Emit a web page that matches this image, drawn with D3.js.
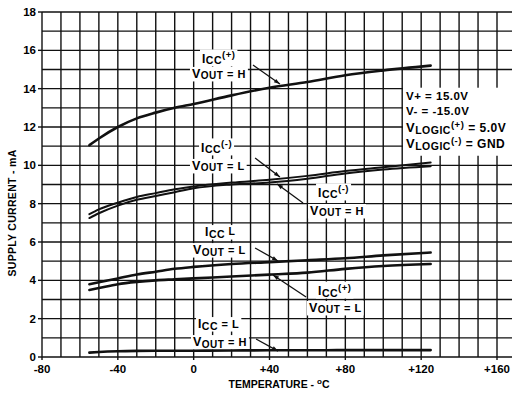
<!DOCTYPE html>
<html><head><meta charset="utf-8">
<script src="https://cdn.jsdelivr.net/npm/d3@7"></script>
<style>
html,body{margin:0;padding:0;background:#fff;}
svg{display:block;font-family:"Liberation Sans",Arial,sans-serif;font-weight:bold;}
</style></head>
<body><svg id="chart" width="512" height="393"></svg>
<script>
// ---- data ----
const temps     = [-55, -50, -40, -30, -20, -10, 0, 20, 40, 60, 80, 100, 125];
const iccPlusH  = [11.05, 11.4, 12.0, 12.45, 12.75, 13.0, 13.2, 13.65, 14.05, 14.35, 14.7, 14.95, 15.2];
const iccMinusL = [7.45, 7.7, 8.05, 8.35, 8.55, 8.75, 8.9, 9.1, 9.25, 9.45, 9.7, 9.9, 10.15];
const iccMinusH = [7.25, 7.5, 7.9, 8.2, 8.4, 8.6, 8.8, 9.0, 9.1, 9.3, 9.58, 9.78, 9.95];
const iccLL     = [3.8, 3.9, 4.1, 4.3, 4.45, 4.6, 4.7, 4.85, 4.95, 5.05, 5.15, 5.3, 5.45];
const iccPlusL  = [3.5, 3.6, 3.8, 3.92, 4.0, 4.05, 4.1, 4.2, 4.3, 4.4, 4.6, 4.75, 4.85];
const iccLH     = [0.23, 0.26, 0.3, 0.32, 0.33, 0.33, 0.33, 0.34, 0.35, 0.35, 0.36, 0.36, 0.36];
const xTickValues = [-80, -40, 0, 40, 80, 120, 160];
const xTickLabels = ["-80", "-40", "0", "+40", "+80", "+120", "+160"];
const yTickValues = [0, 2, 4, 6, 8, 10, 12, 14, 16, 18];
const yTickLabels = ["0", "2", "4", "6", "8", "10", "12", "14", "16", "18"];
const conditions = [
  [["V+ = 15.0V", 11.5, 0]],
  [["V- = -15.0V", 11.5, 0]],
  [["V", 13, 0], ["LOGIC", 10.5, 1.5], ["(+)", 9.5, -4.5], [" = 5.0V", 12, 0]],
  [["V", 13, 0], ["LOGIC", 10.5, 1.5], ["(-)", 9.5, -4.5], [" = GND", 12, 0]]
];

// ---- layout ----
const svg = d3.select("#chart");
const x = d3.scaleLinear().domain([-80, 160]).range([42, 497]);
const y = d3.scaleLinear().domain([0, 18]).range([357, 12]);
const rightEdge = 512;

// grid
const g = svg.append("g").attr("stroke", "#111").attr("stroke-width", 1.4);
g.selectAll("line.v").data(d3.range(-80, 161, 10)).join("line")
  .attr("x1", d => x(d)).attr("x2", d => x(d)).attr("y1", y(18)).attr("y2", y(0));
g.selectAll("line.h").data(d3.range(0, 19, 1)).join("line")
  .attr("x1", x(-80)).attr("x2", rightEdge).attr("y1", d => y(d)).attr("y2", d => y(d));

// ticks
svg.append("g").selectAll("line").data(yTickValues).join("line")
  .attr("x1", x(-80) - 4).attr("x2", x(-80)).attr("y1", d => y(d)).attr("y2", d => y(d))
  .attr("stroke", "#111").attr("stroke-width", 1.4);
svg.append("g").selectAll("line").data(xTickValues).join("line")
  .attr("x1", d => x(d)).attr("x2", d => x(d)).attr("y1", y(0)).attr("y2", y(0) + 3)
  .attr("stroke", "#111").attr("stroke-width", 1.4);

// tick labels
svg.append("g").selectAll("text").data(yTickValues).join("text")
  .attr("x", x(-80) - 6).attr("y", d => y(d) + 4).attr("text-anchor", "end")
  .attr("font-size", 11.5).text((d, i) => yTickLabels[i]);
svg.append("g").selectAll("text").data(xTickValues).join("text")
  .attr("x", d => x(d)).attr("y", y(0) + 16).attr("text-anchor", "middle")
  .attr("font-size", 11.5).text((d, i) => xTickLabels[i]);

// axis titles
const xt = svg.append("text").attr("x", 279).attr("y", 388).attr("text-anchor", "middle").attr("font-size", 10.5);
xt.append("tspan").text("TEMPERATURE - ");
xt.append("tspan").attr("font-size", 8).attr("dy", -4).text("o");
xt.append("tspan").attr("dy", 4).text("C");
svg.append("text").attr("transform", "translate(16,213) rotate(-90)").attr("text-anchor", "middle")
  .attr("font-size", 10.5).attr("letter-spacing", 0.3).text("SUPPLY CURRENT - mA");

// rich text helper: parts = [text, size, shift]
function rich(sel, px, py, parts) {
  const t = sel.append("text").attr("x", px).attr("y", py).attr("letter-spacing", 0.5);
  let prev = 0;
  parts.forEach(([s, size, shift]) => {
    t.append("tspan").attr("font-size", size).attr("dy", shift - prev).text(s);
    prev = shift;
  });
  return t;
}

// annotations in data coords
const icc = (sup) => [["I", 12, 0], ["CC", 10.5, 1.5], [sup, 9.5, -4.5]];
const vout = (v) => [["V", 12.5, 0], ["OUT", 10, 1.5], [" = " + v, 11, 0]];
const annotations = [
  { l1: icc("(+)"), l2: vout("H"), a: [4.4, 15.34], b: [-0.9, 14.56], from: [31.3, 15.23], to: [45.5, 14.24] },
  { l1: icc("(-)"), l2: vout("L"), a: [3.9, 10.7], b: [-0.9, 9.76], from: [32.4, 10.38], to: [45.5, 9.39] },
  { l1: icc("(-)"), l2: vout("H"), a: [65.6, 8.35], b: [61.4, 7.41], from: [57.7, 8.03], to: [44.0, 9.03] },
  { l1: [["I", 12, 0], ["CC", 10.5, 1.5], [" L", 10.5, -1]], l2: vout("L"), a: [6.0, 6.31], b: [-0.35, 5.37], from: [32.4, 5.69], to: [44.5, 5.01] },
  { l1: icc("(+)"), l2: vout("L"), a: [65.6, 3.23], b: [60.8, 2.35], from: [59.3, 3.13], to: [41.8, 4.28] },
  { l1: [["I", 12, 0], ["CC", 10.5, 1.5], [" = L", 11, 0]], l2: vout("H"), a: [2.3, 1.51], b: [-0.35, 0.57], from: [32.9, 0.94], to: [44.5, 0.31] }
];

const bgLayer = svg.append("g");
const curveLayer = svg.append("g");
const textLayer = svg.append("g");

// curves
const series = [iccPlusH, iccMinusL, iccMinusH, iccLL, iccPlusL, iccLH];
const line = d3.line().x((d, i) => x(temps[i])).y(d => y(d)).curve(d3.curveMonotoneX);
curveLayer.selectAll("path").data(series).join("path")
  .attr("d", line).attr("fill", "none").attr("stroke", "#111")
  .attr("stroke-width", (d, i) => (i === 1 || i === 2) ? 2 : 2.6).attr("stroke-linecap", "round");

// arrow marker
svg.append("defs").append("marker").attr("id", "ah").attr("viewBox", "0 0 10 10")
  .attr("refX", 10).attr("refY", 5).attr("markerWidth", 9).attr("markerHeight", 6)
  .attr("orient", "auto").attr("markerUnits", "userSpaceOnUse")
  .append("path").attr("d", "M0,1.5 L10,5 L0,8.5 Z").attr("fill", "#111");

annotations.forEach(an => {
  const t1 = rich(textLayer, x(an.a[0]), y(an.a[1]), an.l1);
  const t2 = rich(textLayer, x(an.b[0]), y(an.b[1]), an.l2);
  [t1, t2].forEach(t => {
    const bb = t.node().getBBox();
    bgLayer.append("rect").attr("x", bb.x - 2).attr("y", bb.y).attr("width", bb.width + 4).attr("height", bb.height)
      .attr("fill", "#fff");
  });
  textLayer.append("line").attr("x1", x(an.from[0])).attr("y1", y(an.from[1]))
    .attr("x2", x(an.to[0])).attr("y2", y(an.to[1]))
    .attr("stroke", "#111").attr("stroke-width", 1.3).attr("marker-end", "url(#ah)");
});

// conditions box
const condX = 406;
const condBase = [100, 115, 132, 148];
bgLayer.append("rect").attr("x", 403).attr("y", y(14.05)).attr("width", rightEdge - 403).attr("height", y(10.5) - y(14.05)).attr("fill", "#fff");
conditions.forEach((parts, i) => rich(textLayer, condX, condBase[i], parts));
</script></body></html>
